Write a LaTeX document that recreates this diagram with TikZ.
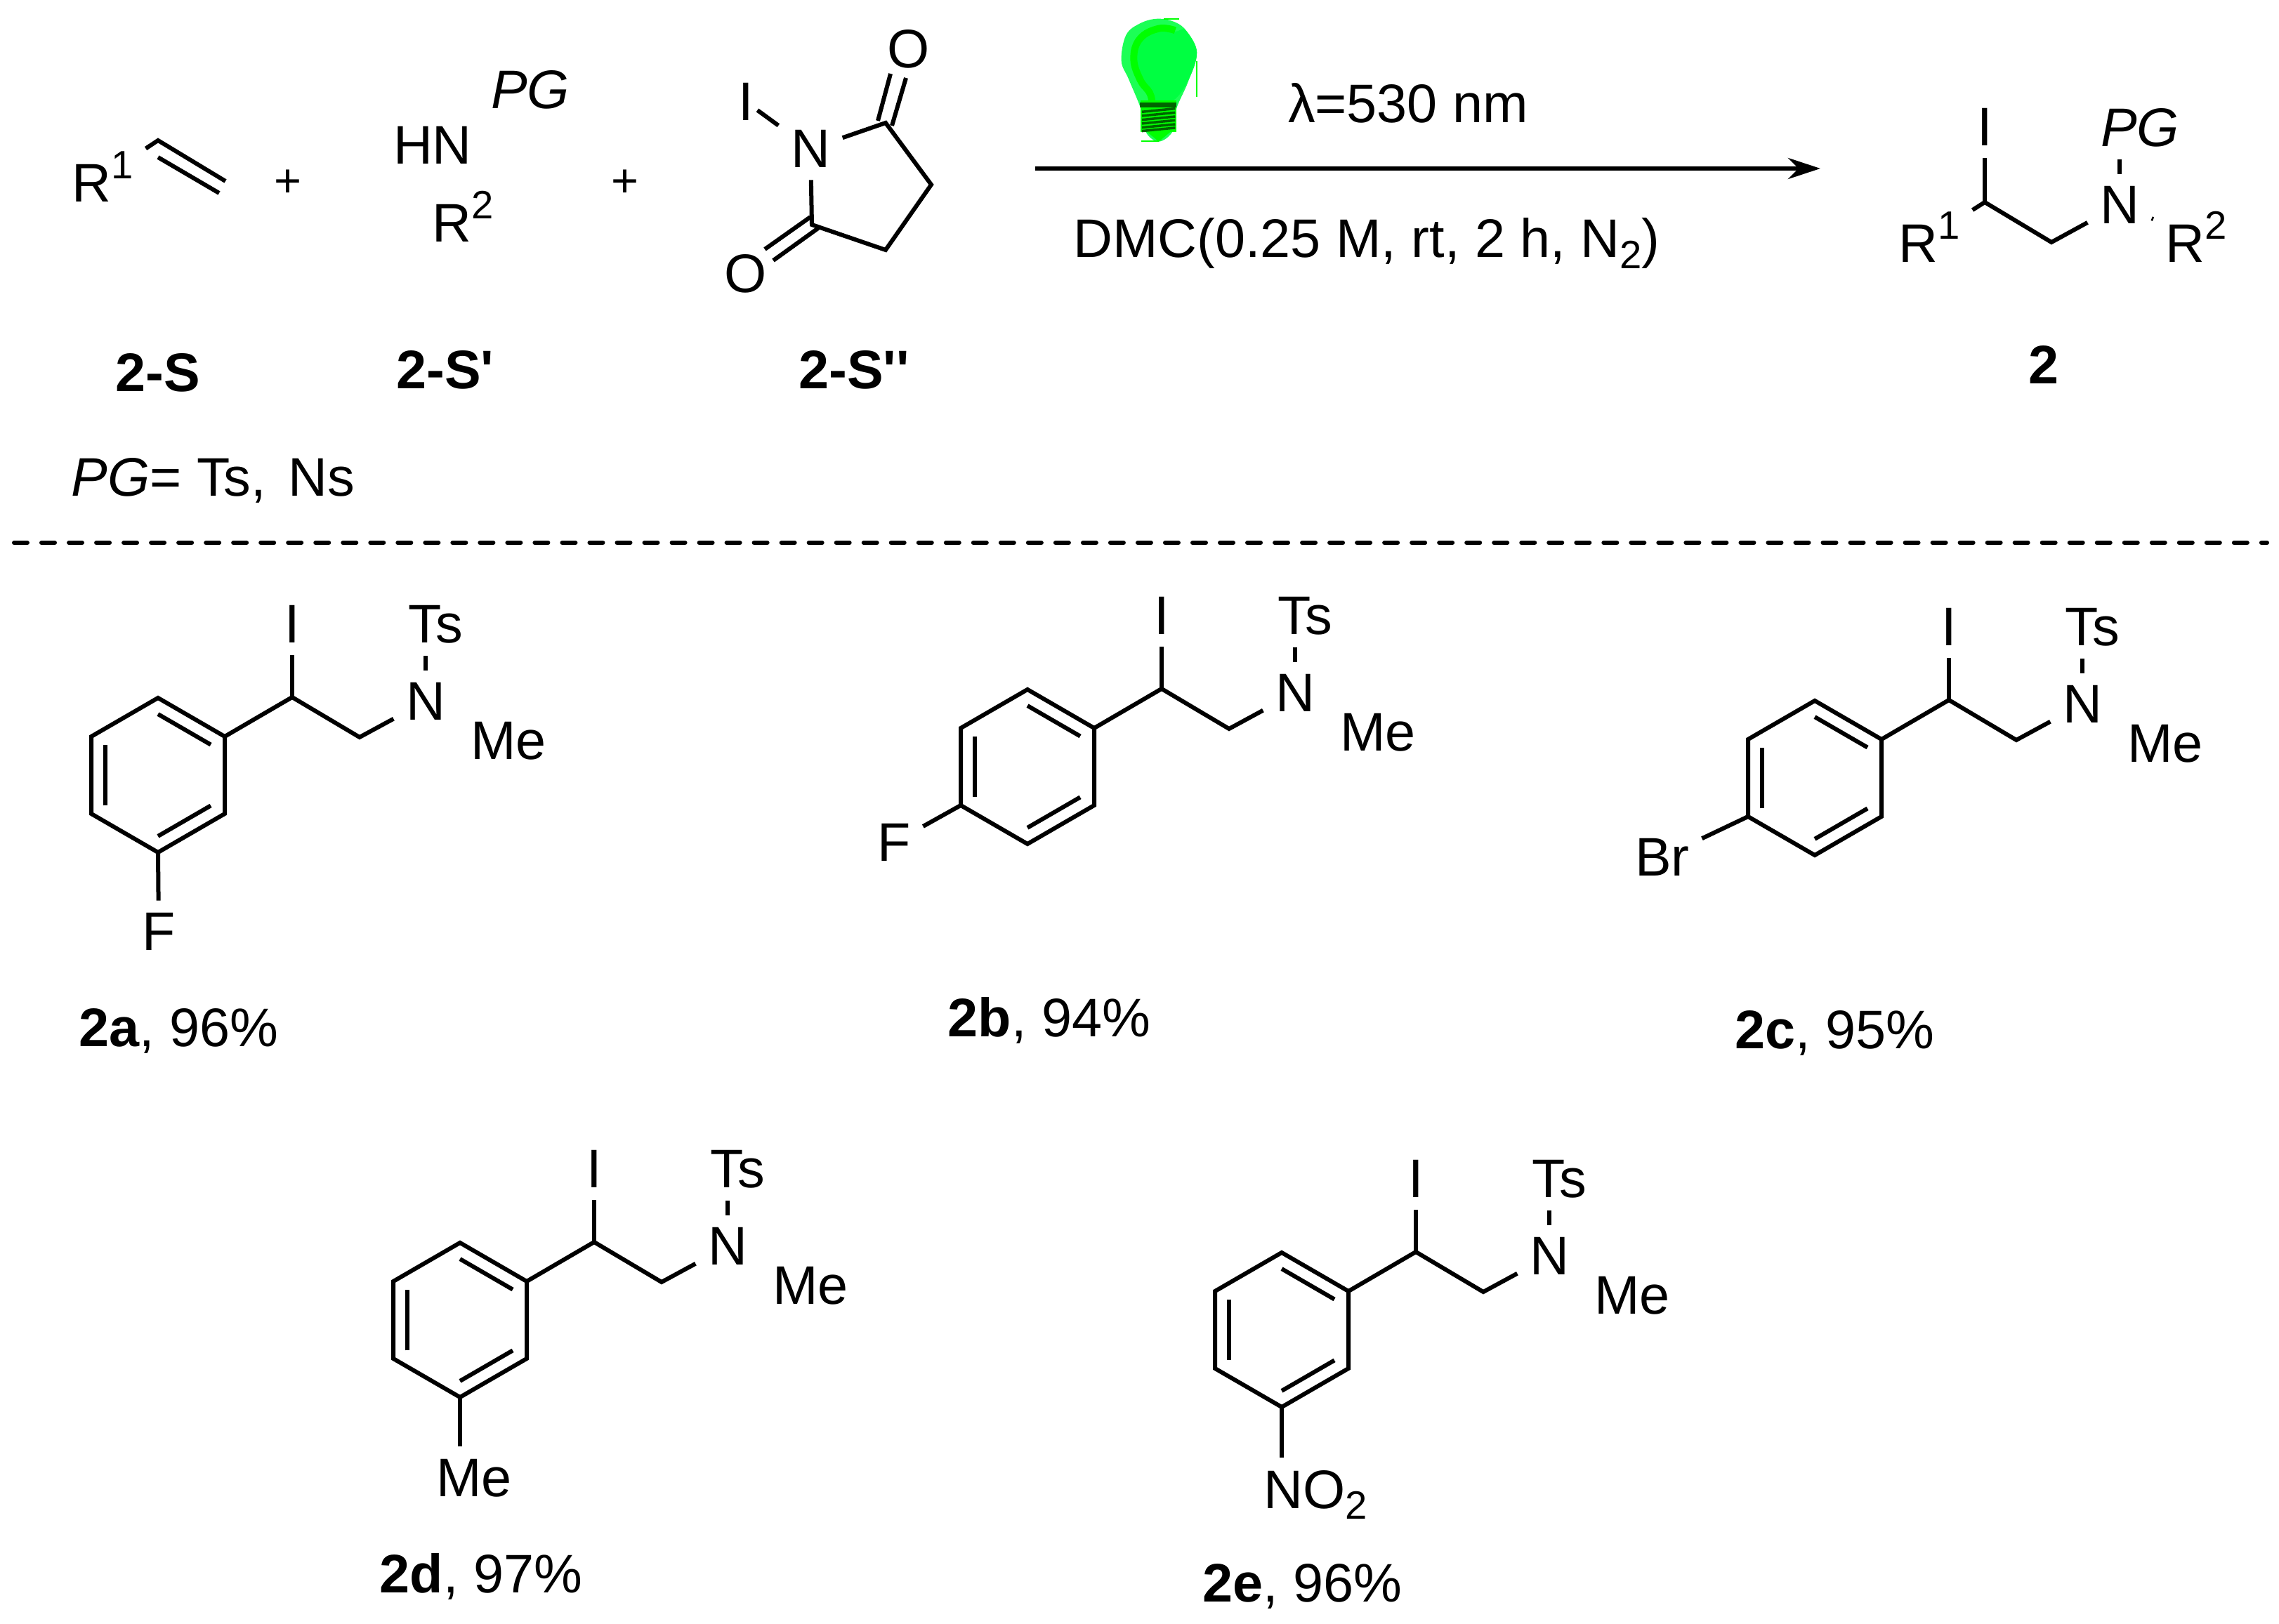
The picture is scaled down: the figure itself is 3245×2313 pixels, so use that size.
\documentclass[tikz,border=0pt]{standalone}
\usepackage{fontspec}
\setmainfont{Liberation Sans}[Ligatures=TeXOff]
\usetikzlibrary{arrows.meta,calc}
\definecolor{bulbmain}{HTML}{00FF41}
\definecolor{bulbedge}{HTML}{1CFF55}
\definecolor{bulbhigh}{HTML}{00FF00}
\definecolor{bulbdark}{HTML}{006400}
\newcommand{\rsup}[1]{\raisebox{9.4pt}{\fontsize{16}{18}\selectfont #1}}
\newcommand{\rsub}[1]{\raisebox{-4.3pt}{\fontsize{16}{18}\selectfont #1}}
\tikzset{
    bond/.style={line width=.06cm},
    atom/.style={inner sep=.17cm,font=\fontsize{22}{26}\selectfont},
    cpd/.style={inner sep=0pt,anchor=base,font=\fontsize{22}{26}\selectfont},
    plus/.style={inner sep=0pt,font=\fontsize{19}{22}\selectfont}
}

\begin{document}
\begin{tikzpicture}[x=.01cm,y=-.01cm]
    \useasboundingbox (0,0) rectangle (3245,2313);

    \node[atom,anchor=base west] (rone) at (85,288) {R\rsup{1}};
    \coordinate (va) at (225,200);
    \draw[bond] (rone) -- (va) -- (321,258);
    \draw[bond] (225,224) -- (312,275);
    \node[plus] (plusa) at (410,261) {+};
    \node[atom] (hn) at (616,207) {HN};
    \node[atom] (pga) at (755,128) {\itshape PG};
    \node[atom,anchor=base west] (rtwo) at (598,345) {R\rsup{2}};
    \node[plus] (plusb) at (890,261) {+};

    \node[atom] (nis) at (1154,212) {N};
    \node[atom,inner sep=.05cm] (nisi) at (1062,145) {I};
    \node[atom] (oa) at (1294,70) {O};
    \node[atom] (ob) at (1062,390) {O};
    \coordinate (ca) at (1261,175);
    \coordinate (cb) at (1326,263);
    \coordinate (cc) at (1261,356);
    \coordinate (cd) at (1156,320);
    \draw[bond] (nisi) -- (nis);
    \draw[bond] (nis) -- (ca) -- (cb) -- (cc) -- (cd) -- (nis);
    \draw[bond] ([shift={(-11,-3)}]ca) -- (1268,105);
    \draw[bond] ([shift={(9,4)}]ca) -- (1290,111);
    \draw[bond] ([shift={(-2,-11)}]cd) -- (1089,355);
    \draw[bond] ([shift={(9,5)}]cd) -- (1101,371);

    \node[cpd] (sa) at (225,558) {\bfseries 2-S};
    \node[cpd] (sb) at (634,554) {\bfseries 2-S'};
    \node[cpd] (sc) at (1216,554) {\bfseries 2-S''};
    \node[cpd,anchor=base west] (pgnote) at (101,707) {\textit{PG}= Ts,\kern.1cm\ Ns};

    \coordinate (arrowa) at (1474,240);
    \coordinate (arrowb) at (2592,240);
    \draw[bond,-{Stealth[length=.46cm,width=.3cm]}] (arrowa) -- (arrowb);
    \node[cpd] (lam) at (2005,175) {λ=530 nm};
    \node[cpd] (cond) at (1946,367) {DMC(0.25 M, rt, 2 h, N\rsub{2})};

    \begin{scope}[shift={(1520,0)},scale=.3333]
        \fill[bulbedge] plot[smooth cycle,tension=.6] coordinates {(385,80) (460,95) (510,135) (553,225) (515,350) (465,465) (450,560) (390,605) (335,565) (315,470) (262,340) (230,260) (250,150) (310,100)};
        \fill[bulbmain] plot[smooth cycle,tension=.6] coordinates {(460,135) (380,130) (300,200) (300,280) (350,390) (370,430) (450,430) (515,345) (552,225) (505,130)};
        \draw[bulbhigh,line width=.1cm] plot[smooth,tension=.7] coordinates {(460,130) (390,122) (310,165) (283,250) (310,340) (350,395) (360,430)};
        \fill[bulbhigh] (335,560) -- (450,555) -- (390,605) -- cycle;
        \fill[bulbhigh] (312,430) rectangle (465,565);
        \fill[bulbdark] (310,438) rectangle (465,458);
        \foreach \v in {478,495,512,528,545,560} {
            \draw[bulbdark,line width=.035cm] (318,\v) -- (460,\v-14);
        }
        \draw[bulbhigh,line width=.018cm] (410,80) -- (477,80);
        \draw[bulbhigh,line width=.018cm] (552,260) -- (552,415);
        \draw[bulbhigh,line width=.018cm] (315,603) -- (390,603);
    \end{scope}

    \node[atom] (pi) at (2826,181) {I};
    \node[atom] (pn) at (3018,292) {N};
    \node[atom] (ppg) at (3047,182) {\itshape PG};
    \node[atom,anchor=base west] (pra) at (2686,374) {R\rsup{1}};
    \node[atom,anchor=base west] (prb) at (3066,374) {R\rsup{2}};
    \coordinate (pch) at (2826,288);
    \coordinate (pcm) at (2921,345);
    \draw[bond] (pra) -- (pch) -- (pcm) -- (pn);
    \draw[bond] (pch) -- (pi);
    \draw[bond] (pn.north) -- (pn.north |- ppg.south);
    \draw[bond] (pn) -- (prb);
    \node[cpd] (pl) at (2910,547) {\bfseries 2};

    \coordinate (dasha) at (20,773);
    \coordinate (dashb) at (3228,773);
    \draw[bond,line cap=round,dash pattern=on .19cm off .2cm] (dasha) -- (dashb);

    \foreach \m/\x/\y in {a/416/993,b/1654/981,c/2775/997,d/846/1769,e/2016/1783} {
        \begin{scope}[shift={(\x,\y)}]
            \coordinate (\m ch) at (0,0);
            \coordinate (\m cm) at (96,57);
            \node[atom] (\m i) at (0,-104) {I};
            \node[atom] (\m n) at (190,6) {N};
            \node[atom] (\m ts) at (204,-104) {Ts};
            \node[atom] (\m me) at (308,62) {Me};
            \coordinate (\m c) at (-191,111);
            \coordinate (\m ra) at (-191,1);
            \coordinate (\m rb) at (-96,56);
            \coordinate (\m rc) at (-96,166);
            \coordinate (\m rd) at (-191,221);
            \coordinate (\m re) at (-286,166);
            \coordinate (\m rf) at (-286,56);
        \end{scope}
        \draw[bond] (\m rb) -- (\m ch) -- (\m cm) -- (\m n);
        \draw[bond] (\m ch) -- (\m i);
        \draw[bond] (\m n.north) -- (\m n.north |- \m ts.south);
        \draw[bond,line join=miter] (\m ra) -- (\m rb) -- (\m rc) -- (\m rd) -- (\m re) -- (\m rf) -- cycle;
        \draw[bond] ($(\m c)!.79!(\m ra)$) -- ($(\m c)!.79!(\m rb)$);
        \draw[bond] ($(\m c)!.79!(\m rc)$) -- ($(\m c)!.79!(\m rd)$);
        \draw[bond] ($(\m c)!.79!(\m re)$) -- ($(\m c)!.79!(\m rf)$);
    }

    \node[atom] (fa) at (226,1327) {F};
    \draw[bond] (ard) -- (fa);
    \node[atom] (fb) at (1273,1200) {F};
    \draw[bond] (bre) -- (fb);
    \node[atom] (brc) at (2367,1221) {Br};
    \draw[bond] (cre) -- (brc);
    \node[atom] (med) at (675,2105) {Me};
    \draw[bond] (drd) -- (drd |- med.north);
    \node[atom,anchor=base west] (noe) at (1782,2148) {NO\rsub{2}};
    \draw[bond] (erd) -- (erd |- noe.north);

    \node[cpd] (la) at (254,1490) {\textbf{2a}, 96\%};
    \node[cpd] (lb) at (1494,1476) {\textbf{2b}, 94\%};
    \node[cpd] (lc) at (2612,1493) {\textbf{2c}, 95\%};
    \node[cpd] (ld) at (685,2268) {\textbf{2d}, 97\%};
    \node[cpd] (le) at (1854,2281) {\textbf{2e}, 96\%};
\end{tikzpicture}
\end{document}
